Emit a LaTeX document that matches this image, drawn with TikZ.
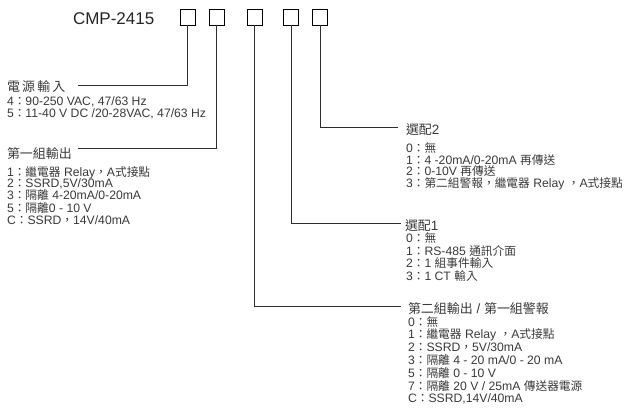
\documentclass[tikz,border=0pt]{standalone}
\usepackage{fontspec}
\setmainfont{Liberation Sans}
\newfontfamily\cjk[Scale=0.96]{Noto Sans CJK TC}
\newcommand\zh[1]{{\cjk #1}}
\definecolor{txt}{HTML}{3A3A3A}
\definecolor{ln}{HTML}{2E2E2E}
\begin{document}
\begin{tikzpicture}[x=1pt,y=-1pt,
  every node/.style={inner sep=0pt,outer sep=0pt},
  codebox/.style={draw=black,line width=0.9pt,minimum width=15pt,minimum height=16pt},
  conn/.style={draw=ln,line width=0.9pt},
  ttl/.style={anchor=base west,text=txt,font=\fontsize{13.5}{14}\selectfont},
  itm/.style={anchor=base west,text=txt,font=\fontsize{12.2}{13}\selectfont}]
\useasboundingbox (0,0) rectangle (644,412);
\fill[white] (0,0) rectangle (644,412);
% title
\node[anchor=base west,text=black!85,font=\fontsize{17}{18}\selectfont] (model) at (73,25) {CMP-2415};
% boxes
\node[codebox] (b1) at (187.5,17) {};
\node[codebox] (b2) at (216.5,17) {};
\node[codebox] (b3) at (254.5,17) {};
\node[codebox] (b4) at (291,17) {};
\node[codebox] (b5) at (320,17) {};
% connector ends
\coordinate (e1) at (78,85);
\coordinate (e2) at (78,148.5);
\coordinate (e5) at (398,127.5);
\coordinate (e4) at (400.5,223);
\coordinate (e3) at (401,306.5);
\draw[conn] (b1.south) |- (e1);
\draw[conn] (b2.south) |- (e2);
\draw[conn] (b5.south) |- (e5);
\draw[conn] (b4.south) |- (e4);
\draw[conn] (b3.south) |- (e3);
% block 1: power
\node[ttl] (t1) at (7,91) {\zh{電\hspace{2.2pt}源\hspace{2.2pt}輸\hspace{2.2pt}入}};
\node[itm] (t1a) at (7,105.5) {4\zh{：}90-250 VAC, 47/63 Hz};
\node[itm] (t1b) at (7,117.5) {5\zh{：}11-40 V DC /20-28VAC, 47/63 Hz};
% block 2: first output
\node[ttl] (t2) at (7,158.5) {\zh{第一組輸出}};
\node[itm] (t2a) at (7,176) {1\zh{：繼電器} Relay\zh{，}A\zh{式接點}};
\node[itm] (t2b) at (7,187.5) {2\zh{：}SSRD,5V/30mA};
\node[itm] (t2c) at (7,199) {3\zh{：隔離} 4-20mA/0-20mA};
\node[itm] (t2d) at (7,212) {5\zh{：隔離}0 - 10 V};
\node[itm] (t2e) at (7,224) {C\zh{：}SSRD\zh{，}14V/40mA};
% block option 2
\node[ttl] (t5) at (406,134) {\zh{選配}2};
\node[itm] (t5a) at (406,152) {0\zh{：無}};
\node[itm] (t5b) at (406,164) {1\zh{：}4 -20mA/0-20mA \zh{再傳送}};
\node[itm] (t5c) at (406,175.5) {2\zh{：}0-10V \zh{再傳送}};
\node[itm] (t5d) at (406,187) {3\zh{：第二組警報，繼電器} Relay \zh{，}A\zh{式接點}};
% block option 1
\node[ttl] (t4) at (405,230) {\zh{選配}1};
\node[itm] (t4a) at (406,242.5) {0\zh{：無}};
\node[itm] (t4b) at (406,255) {1\zh{：}RS-485 \zh{通訊介面}};
\node[itm] (t4c) at (406,267.5) {2\zh{：}1 \zh{組事件輸入}};
\node[itm] (t4d) at (406,280) {3\zh{：}1 CT \zh{輸入}};
% block second output
\node[ttl] (t3) at (408,313.5) {\zh{第二組輸出} / \zh{第一組警報}};
\node[itm] (t3a) at (408,326) {0\zh{：無}};
\node[itm] (t3b) at (408,338.8) {1\zh{：繼電器} Relay \zh{，}A\zh{式接點}};
\node[itm] (t3c) at (408,351.6) {2\zh{：}SSRD\zh{，}5V/30mA};
\node[itm] (t3d) at (408,364.4) {3\zh{：隔離} 4 - 20 mA/0 - 20 mA};
\node[itm] (t3e) at (408,377.2) {5\zh{：隔離} 0 - 10 V};
\node[itm] (t3f) at (408,390) {7\zh{：隔離} 20 V / 25mA \zh{傳送器電源}};
\node[itm] (t3g) at (408,402.8) {C\zh{：}SSRD,14V/40mA};
\end{tikzpicture}
\end{document}
